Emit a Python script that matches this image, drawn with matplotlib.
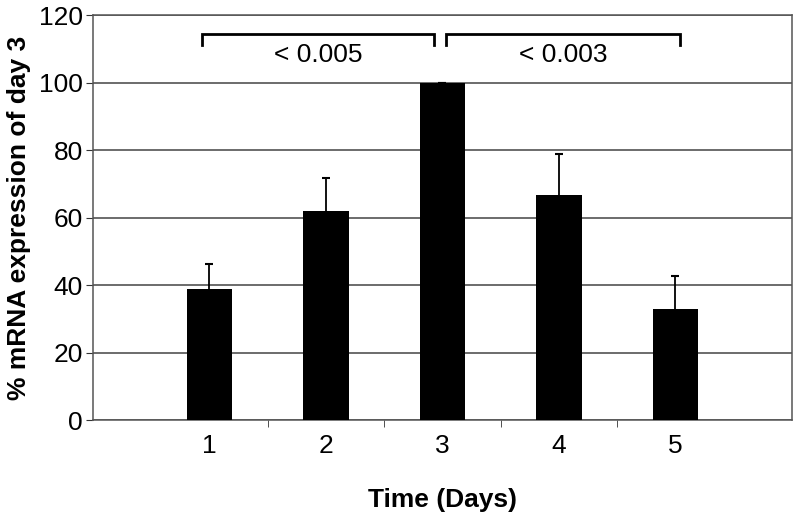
import matplotlib.pyplot as plt
from matplotlib.ticker import FixedLocator

# data
days = [1, 2, 3, 4, 5]
expression = [38.7, 62.0, 100.0, 66.7, 32.9]
sem = [7.5, 9.8, 0.0, 12.3, 9.9]
brackets = [(0.94, 2.93, "< 0.005"), (3.03, 5.04, "< 0.003")]

plt.rcParams['font.family'] = ['Liberation Sans', 'DejaVu Sans']

fig = plt.figure(figsize=(8, 5.25), dpi=100)
ax = fig.add_axes([0.116, 0.2, 0.874, 0.771])

# error bars go under the bars so only the upper half shows
ax.errorbar(days, expression, yerr=sem, fmt='none',
            ecolor='black', elinewidth=1.3, capsize=3, capthick=1.5, zorder=2)
ax.bar(days, expression, width=0.39, color='black', zorder=3)

# significance brackets
for x0, x1, label in brackets:
    ax.plot([x0, x0, x1, x1], [111.2, 114.4, 114.4, 111.2], color='black',
            lw=2, solid_joinstyle='miter', zorder=5, clip_on=False)
    ax.text((x0 + x1) / 2, 108.3, label, ha='center', va='center', fontsize=19)

ax.set_xlim(0, 6)
ax.set_ylim(0, 120)
ax.set_yticks(range(0, 121, 20))
ax.set_xticks(days)
ax.set_xticklabels([str(d) for d in days])
ax.xaxis.set_minor_locator(FixedLocator([1.5, 2.5, 3.5, 4.5]))
ax.tick_params(axis='x', which='major', length=0, pad=10, labelsize=19)
ax.tick_params(axis='x', which='minor', length=5, direction='out', color='#333333')
ax.tick_params(axis='y', length=5, direction='out', labelsize=19, pad=2, color='#333333')

ax.yaxis.grid(True, color='#444444', lw=1.1, zorder=0)
for s in ax.spines.values():
    s.set_color('#555555')
    s.set_linewidth(1.1)

ax.set_ylabel('% mRNA expression of day 3', fontsize=19, fontweight='bold', labelpad=6)
ax.set_xlabel('Time (Days)', fontsize=19, fontweight='bold', labelpad=22)

fig.savefig('out.png', dpi=100)
